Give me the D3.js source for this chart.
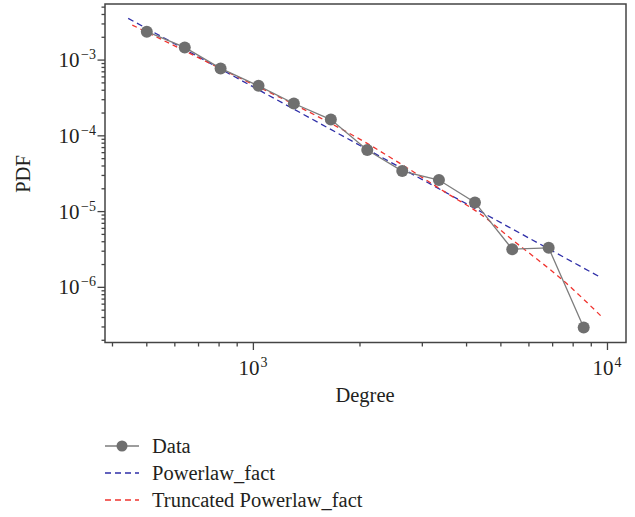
<!DOCTYPE html>
<html>
<head>
<meta charset="utf-8">
<script src="https://cdn.jsdelivr.net/npm/d3@7"></script>
<style>
  body { margin: 0; background: #fff; }
  text { font-family: "Liberation Serif", "DejaVu Serif", serif; fill: #231f20; }
</style>
</head>
<body>
<svg id="chart" width="635" height="517"></svg>
<script>
// Data (degree vs PDF, log-log)
const degree = [500, 640, 808, 1034, 1301, 1655, 2097, 2633, 3342, 4224, 5384, 6822, 8567];
const pdf = [2.37e-3, 1.47e-3, 7.77e-4, 4.57e-4, 2.67e-4, 1.64e-4, 6.5e-5, 3.43e-5, 2.61e-5, 1.32e-5, 3.19e-6, 3.32e-6, 2.96e-7];

const powX = [443, 9630];
const powY = [3.56e-3, 1.33e-6];

// truncated power law
const truncX = [455, 800, 1540, 2090, 2540, 3590, 4360, 5300, 7670, 9630];
const truncY = [2.9e-3, 7.9e-4, 1.74e-4, 8.0e-5, 4.6e-5, 1.65e-5, 9.4e-6, 4.5e-6, 1.12e-6, 4.1e-7];

const xTickExps = [3, 4];
const yTickExps = [-3, -4, -5, -6];
const legendLabels = ["Data", "Powerlaw_fact", "Truncated Powerlaw_fact"];

const svg = d3.select("#chart");
const pLeft = 105, pRight = 626, pTop = 4, pBottom = 342.5;

const x = d3.scaleLog().domain([381, 11280]).range([pLeft, pRight]);
const y = d3.scaleLog().domain([1.87e-7, 5.5e-3]).range([pBottom, pTop]);

const GREY = "#6f6f6f";
const BLUE = "#2f2fa8";
const RED = "#f0332e";

// minor ticks: 2..9 x each decade inside the domain
const minorX = [];
[2, 3].forEach(e => d3.range(2, 10).forEach(m => {
  const v = m * Math.pow(10, e);
  if (v >= x.domain()[0] && v <= x.domain()[1]) minorX.push(v);
}));
const minorY = [];
[-7, -6, -5, -4, -3].forEach(e => d3.range(2, 10).forEach(m => {
  const v = m * Math.pow(10, e);
  if (v >= y.domain()[0] && v <= y.domain()[1]) minorY.push(v);
}));

const axisG = svg.append("g").attr("stroke", "#444").attr("stroke-width", 1.3);

// x ticks
axisG.selectAll(".xminor").data(minorX).enter().append("line")
  .attr("x1", d => x(d)).attr("x2", d => x(d))
  .attr("y1", pBottom).attr("y2", pBottom + 4);
axisG.selectAll(".xmajor").data(xTickExps).enter().append("line")
  .attr("x1", d => x(Math.pow(10, d))).attr("x2", d => x(Math.pow(10, d)))
  .attr("y1", pBottom).attr("y2", pBottom + 7.5);

// y ticks
axisG.selectAll(".yminor").data(minorY).enter().append("line")
  .attr("y1", d => y(d)).attr("y2", d => y(d))
  .attr("x1", pLeft).attr("x2", pLeft - 3.5);
axisG.selectAll(".ymajor").data(yTickExps).enter().append("line")
  .attr("y1", d => y(Math.pow(10, d))).attr("y2", d => y(Math.pow(10, d)))
  .attr("x1", pLeft).attr("x2", pLeft - 7.5);

// frame
svg.append("rect")
  .attr("x", pLeft).attr("y", pTop)
  .attr("width", pRight - pLeft).attr("height", pBottom - pTop)
  .attr("fill", "none").attr("stroke", "#444").attr("stroke-width", 1.5);

// tick labels 10^n
const xl = svg.selectAll(".xlab").data(xTickExps).enter().append("text")
  .attr("x", d => x(Math.pow(10, d)) - 15)
  .attr("y", 375)
  .style("font-size", "21px");
xl.append("tspan").text("10");
xl.append("tspan").attr("dy", -8).attr("dx", 1).style("font-size", "14px").text(d => d);

const yl = svg.selectAll(".ylab").data(yTickExps).enter().append("text")
  .attr("x", 96)
  .attr("y", d => y(Math.pow(10, d)) + 7)
  .attr("text-anchor", "end")
  .style("font-size", "21px");
yl.append("tspan").text("10");
yl.append("tspan").attr("dy", -8).attr("dx", 1.5).style("font-size", "14px").text(d => "\u2212" + Math.abs(d));

// axis titles
svg.append("text")
  .attr("x", 365).attr("y", 402)
  .attr("text-anchor", "middle")
  .style("font-size", "20.5px")
  .text("Degree");

svg.append("text")
  .attr("transform", "translate(30,174) rotate(-90)")
  .attr("text-anchor", "middle")
  .style("font-size", "20.5px")
  .text("PDF");

// fits
const line = d3.line().x(d => x(d[0])).y(d => y(d[1]));
const curve = d3.line().x(d => x(d[0])).y(d => y(d[1])).curve(d3.curveMonotoneX);

svg.append("path")
  .attr("d", line(d3.zip(powX, powY)))
  .attr("fill", "none").attr("stroke", BLUE).attr("stroke-width", 1.3)
  .attr("stroke-dasharray", "6,4");

svg.append("path")
  .attr("d", curve(d3.zip(truncX, truncY)))
  .attr("fill", "none").attr("stroke", RED).attr("stroke-width", 1.3)
  .attr("stroke-dasharray", "5,4");

// data
const pts = d3.zip(degree, pdf);
svg.append("path")
  .attr("d", line(pts))
  .attr("fill", "none").attr("stroke", "#7d7d7d").attr("stroke-width", 1.3);

svg.selectAll(".pt").data(pts).enter().append("circle")
  .attr("cx", d => x(d[0])).attr("cy", d => y(d[1]))
  .attr("r", 6).attr("fill", GREY);

// legend
const leg = svg.append("g");
const rowY = [446, 473, 500];
leg.append("line").attr("x1", 105).attr("x2", 139).attr("y1", rowY[0]).attr("y2", rowY[0])
  .attr("stroke", "#7d7d7d").attr("stroke-width", 1.3);
leg.append("circle").attr("cx", 122).attr("cy", rowY[0]).attr("r", 5.5).attr("fill", GREY);
leg.append("line").attr("x1", 105).attr("x2", 139).attr("y1", rowY[1]).attr("y2", rowY[1])
  .attr("stroke", BLUE).attr("stroke-width", 1.3).attr("stroke-dasharray", "6,4");
leg.append("line").attr("x1", 105).attr("x2", 139).attr("y1", rowY[2]).attr("y2", rowY[2])
  .attr("stroke", RED).attr("stroke-width", 1.3).attr("stroke-dasharray", "6,4");

leg.selectAll(".lt").data(legendLabels).enter().append("text")
  .attr("x", 152).attr("y", (d, i) => rowY[i] + 6.5)
  .style("font-size", "20.5px")
  .text(d => d);
</script>
</body>
</html>
